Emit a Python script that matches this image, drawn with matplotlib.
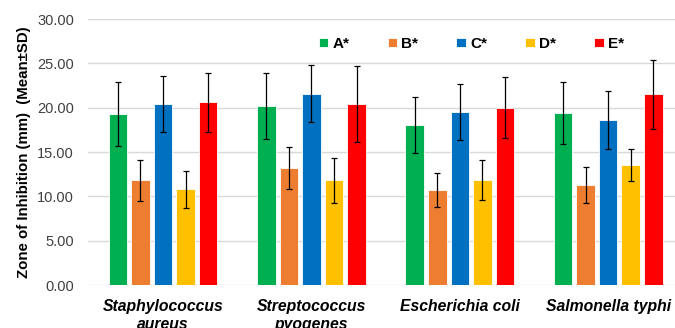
import numpy as np
import matplotlib.pyplot as plt

plt.rcParams['font.family'] = ['Liberation Sans', 'DejaVu Sans']

organisms = ['Staphylococcus\naureus', 'Streptococcus\npyogenes', 'Escherichia coli', 'Salmonella typhi']
series = ['A*', 'B*', 'C*', 'D*', 'E*']
colors = ['#00b050', '#ed7d31', '#0070c0', '#ffc000', '#ff0000']

# mean zone of inhibition per series, in organism order
means_A = [19.3, 20.2, 18.0, 19.4]
means_B = [11.8, 13.2, 10.7, 11.3]
means_C = [20.4, 21.6, 19.5, 18.6]
means_D = [10.8, 11.8, 11.8, 13.5]
means_E = [20.6, 20.4, 20.0, 21.5]

sd_A = [3.6, 3.7, 3.15, 3.55]
sd_B = [2.35, 2.4, 1.9, 2.0]
sd_C = [3.15, 3.2, 3.15, 3.3]
sd_D = [2.1, 2.5, 2.25, 1.8]
sd_E = [3.35, 4.25, 3.45, 3.85]

means = [means_A, means_B, means_C, means_D, means_E]
sds = [sd_A, sd_B, sd_C, sd_D, sd_E]

fig = plt.figure(figsize=(6.75, 3.28), dpi=100)
ax = fig.add_axes([0.13, 0.131, 0.87, 0.811])

x = np.arange(len(organisms))
step = 0.152
width = 0.125
for i, name in enumerate(series):
    ax.bar(x + (i - 2) * step, means[i], width, color=colors[i], label=name,
           edgecolor='white', linewidth=0.6, zorder=2,
           yerr=sds[i], error_kw=dict(ecolor='black', elinewidth=0.9, capsize=2.5, capthick=0.9))

ax.set_ylim(0, 30)
ax.set_yticks(np.arange(0, 30.1, 5))
ax.set_yticklabels([f'{v:.2f}' for v in np.arange(0, 30.1, 5)], fontsize=10.5, color='#404040')
ax.set_xlim(-0.507, 3.45)
ax.set_xticks(x)
ax.set_xticklabels(organisms, fontsize=11.3, fontweight='bold', fontstyle='italic', linespacing=1.25)
ax.tick_params(axis='x', length=0, pad=10)
ax.tick_params(axis='y', length=0, pad=10)
ax.grid(axis='y', color='#d9d9d9', linewidth=1, zorder=0)
for s in ax.spines.values():
    s.set_visible(False)
ax.set_ylabel('Zone of Inhibition (mm)  (Mean±SD)', fontsize=10.8, fontweight='bold', labelpad=4)

ax.legend(loc='upper right', bbox_to_anchor=(0.937, 0.985), ncol=5, frameon=False,
          prop={'weight': 'bold', 'size': 11}, handlelength=0.6, handleheight=0.6,
          handletextpad=0.3, columnspacing=2.5)

fig.savefig('out.png', dpi=100)
